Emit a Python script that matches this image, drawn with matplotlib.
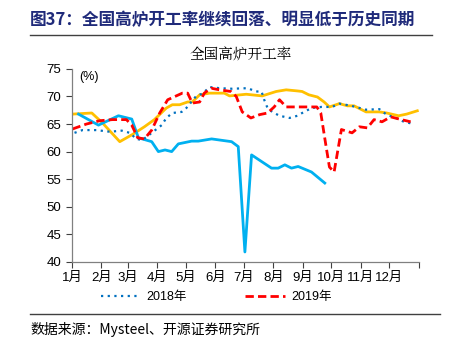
import matplotlib.pyplot as plt
from matplotlib.lines import Line2D

plt.rcParams['font.family'] = ['Liberation Sans', 'Noto Sans CJK SC']

# x = week of year
cyan_x = [1, 4, 7, 9, 10, 12, 13, 14, 15, 16, 18, 19, 21, 24, 25, 26, 27, 30, 31, 32, 33, 34, 36, 38]
cyan_y = [66.8, 64.8, 66.5, 65.9, 62.5, 61.8, 60.0, 60.3, 60.0, 61.4, 61.9, 61.9, 62.3, 61.8, 60.9,
          41.8, 59.4, 57.0, 57.0, 57.6, 57.0, 57.3, 56.3, 54.3]

orange_x = [0.1, 3.0, 4.6, 7.2, 9.1, 10.9, 12.4, 14.2, 15.1, 16.2, 17.4, 18.1, 19.2, 20.7, 22.9, 23.7,
            26.2, 28.6, 30.7, 32.2, 33.9, 34.6, 35.6, 36.9, 37.9, 38.7, 40.2, 41.4, 42.4, 44.2, 46.2,
            47.3, 49.1, 50.3, 51.9]
orange_y = [66.8, 67.0, 65.2, 61.8, 63.1, 64.5, 65.8, 67.9, 68.5, 68.5, 69.0, 69.0, 70.3, 70.6, 70.6,
            70.1, 70.4, 70.1, 70.9, 71.2, 71.0, 70.9, 70.3, 69.9, 69.0, 68.1, 68.7, 68.3, 68.3, 67.2,
            67.2, 67.0, 66.5, 66.8, 67.4]

y2019_x = [0.1, 2.2, 4.2, 6.1, 8.2, 9.0, 9.9, 10.9, 12.0, 13.2, 14.4, 16.6, 17.4, 18.1, 19.2, 19.9,
           20.9, 22.2, 23.9, 24.7, 25.6, 26.9, 28.2, 29.4, 30.4, 31.2, 32.2, 33.4, 35.2, 36.8, 37.4,
           38.2, 38.7, 39.4, 40.5, 42.1, 43.2, 44.4, 45.4, 46.6, 47.9, 49.5, 50.9]
y2019_y = [64.1, 65.0, 65.6, 65.8, 65.8, 64.8, 62.5, 62.3, 63.9, 67.0, 69.4, 70.6, 70.6, 68.8, 69.0,
           70.6, 71.5, 71.2, 70.9, 70.0, 67.2, 66.1, 66.7, 67.0, 68.1, 69.4, 68.1, 68.1, 68.1, 68.1,
           67.0, 60.9, 57.2, 56.3, 64.0, 63.4, 64.5, 64.3, 65.8, 65.4, 66.3, 65.8, 65.4]

y2018_x = [0.4, 1.6, 3.7, 5.7, 7.5, 8.7, 9.7, 10.6, 12.0, 13.5, 14.2, 15.1, 16.5, 17.2, 18.7, 19.6,
           20.7, 22.2, 24.1, 26.4, 27.7, 28.5, 28.9, 29.4, 30.1, 31.2, 32.7, 33.9, 34.6, 36.0, 37.5,
           39.1, 40.2, 42.0, 44.2, 46.2, 47.3, 48.7, 49.9, 51.4]
y2018_y = [63.4, 63.9, 63.9, 63.6, 63.8, 63.4, 62.3, 62.1, 63.4, 64.8, 66.1, 67.0, 67.2, 67.9, 70.1,
           70.5, 71.7, 71.5, 71.4, 71.5, 70.9, 70.9, 69.4, 67.9, 67.2, 66.5, 66.1, 66.5, 67.0, 67.9,
           68.1, 68.1, 68.7, 68.3, 67.6, 67.7, 66.7, 66.1, 65.4, 65.0]

month_days = [0, 31, 59, 90, 120, 151, 181, 212, 243, 273, 304, 334, 365]
month_labels = ['1月', '2月', '3月', '4月', '5月', '6月', '7月', '8月', '9月', '10月', '11月', '12月', '']

fig = plt.figure(figsize=(4.49, 3.41), dpi=100)
ax = fig.add_axes([0.160, 0.232, 0.773, 0.566])

ax.plot(orange_x, orange_y, color='#FFC000', lw=2.0)
ax.plot(cyan_x, cyan_y, color='#00B0F0', lw=2.0)
ax.plot(y2018_x, y2018_y, color='#0070C0', lw=1.6, ls=(0, (1, 2)))
ax.plot(y2019_x, y2019_y, color='#FF0000', lw=2.0, ls=(0, (3, 1.5)))

ax.set_xlim(0, 365 / 7)
ax.set_ylim(40, 75)
ax.set_yticks(range(40, 76, 5))
ax.set_xticks([d / 7 for d in month_days])
ax.set_xticklabels(month_labels)
ax.tick_params(labelsize=9.5, colors='#404040', length=4, width=0.8)
ax.tick_params(axis='x', labelcolor='black', pad=3)
ax.tick_params(axis='y', labelcolor='black')
for s in ['top', 'right']:
    ax.spines[s].set_visible(False)
for s in ['left', 'bottom']:
    ax.spines[s].set_color('#808080')
    ax.spines[s].set_linewidth(0.9)

ax.text(0.02, 0.99, '(%)', transform=ax.transAxes, fontsize=9, va='top')
fig.text(0.535, 0.815, '全国高炉开工率', ha='center', va='bottom', fontsize=10.5,
         family=['Noto Serif CJK SC', 'Noto Sans CJK SC'])

# header and footer
fig.text(0.067, 0.94, '图37：全国高炉开工率继续回落、明显低于历史同期', fontsize=12,
         fontweight='bold', color='#1F2A7A', va='center', family=['Noto Sans CJK SC'])
fig.add_artist(Line2D([0.067, 0.962], [0.897, 0.897], color='#404040', lw=1.0))
fig.add_artist(Line2D([0.067, 0.98], [0.079, 0.079], color='#404040', lw=1.0))
fig.text(0.067, 0.035, '数据来源：Mysteel、开源证券研究所', fontsize=10, va='center',
         family=['Noto Sans CJK SC'])

h1 = Line2D([], [], color='#0070C0', lw=1.6, ls=(0, (1, 2)))
h2 = Line2D([], [], color='#FF0000', lw=2.0, ls=(0, (3, 1.5)))
fig.legend([h1, h2], ['2018年', '2019年'], loc='center', bbox_to_anchor=(0.481, 0.128), ncol=2,
           frameon=False, fontsize=9, handlelength=3.2, columnspacing=4.6, handletextpad=0.5)

fig.savefig('out.png', dpi=100)
